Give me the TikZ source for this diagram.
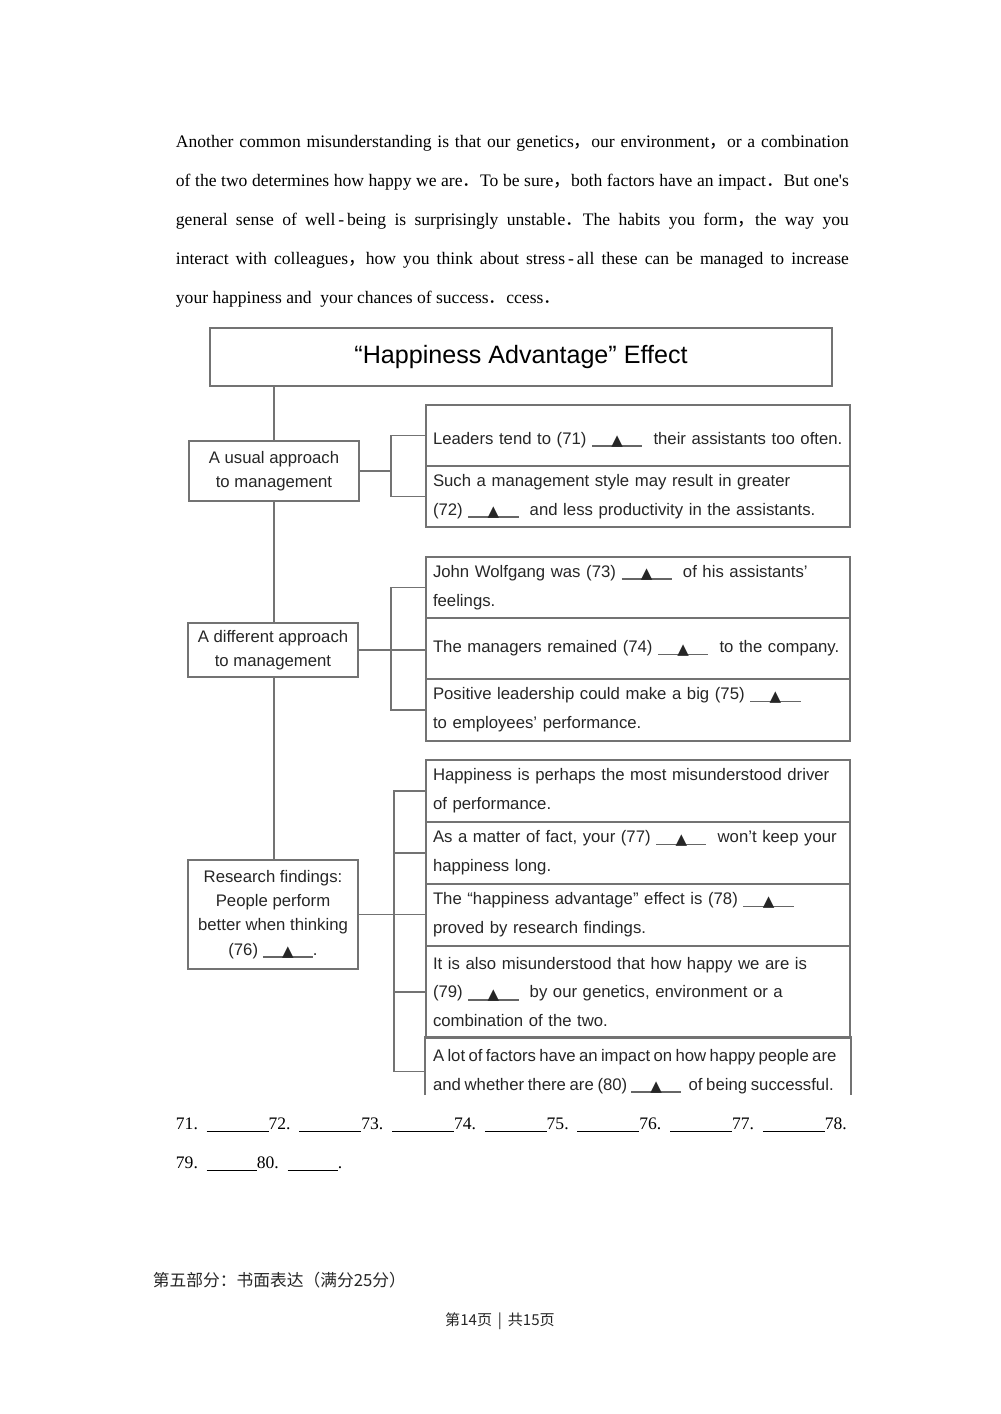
\documentclass[tikz,border=0pt]{standalone}
\usepackage{fontspec}
\setmainfont{Liberation Serif}
\setsansfont{Liberation Sans}
\newfontfamily\plainserif{Liberation Serif}
\newfontfamily\cjk{Noto Sans CJK SC}
\newfontfamily\symfont{DejaVu Sans}
\usetikzlibrary{positioning}

\newlength\unitpx
\setlength\unitpx{0.021cm}
% answer gap: short rule with a small triangle on it
\newcommand\tri{{\symfont\fontsize{9}{9}\selectfont ▲}}
\newcommand\gap{\leavevmode\rlap{\color{black!60}\rule[-1.5pt]{3em}{0.9pt}}\makebox[3em]{\raisebox{-0.7pt}{\tri}}}
\newcommand\ansline[1]{\rule[-1.5pt]{#1}{0.5pt}}
\newcommand\cc[1]{{\cjk #1}}

\begin{document}
\begin{tikzpicture}[
      x=\unitpx, y=-\unitpx,
      line width=1.1pt,
      frame/.style={draw=black!55},
      wire/.style={draw=black!55},
      titlebox/.style={frame, font=\sffamily\fontsize{15}{17}\selectfont,
        minimum width=622*\unitpx, minimum height=58*\unitpx, inner sep=0pt},
      sidebox/.style={frame, font=\sffamily\fontsize{10}{14.4}\selectfont,
        align=center, minimum width=170*\unitpx, inner sep=1pt, text=black!85},
      cell/.style={frame, font=\sffamily\fontsize{10}{17.2}\selectfont,
        text width=410*\unitpx, inner xsep=7*\unitpx, inner ysep=0pt,
        align=left, text=black!85},
      passage/.style={font=\fontsize{10.5}{23.3}\selectfont,
        text width=673*\unitpx, align=justify, inner sep=0pt}
    ]

    \path[use as bounding box] (0,0) rectangle (1000,1414);

    % reading passage
    \node[passage, anchor=north west] (para) at (175,134)
    {Another common misunderstanding is that our genetics\cc{，}our environment\cc{，}or a combination\linebreak
     of the two determines how happy we are\cc{．}To be sure\cc{，}both factors have an impact\cc{．}But one{\plainserif'}s\linebreak
     general sense of well\,-\,being is surprisingly unstable\cc{．}The habits you form\cc{，}the way you\linebreak
     interact with colleagues\cc{，}how you think about stress\,-\,all these can be managed to increase\linebreak
     your happiness and\ \ your chances of success\cc{．}ccess\cc{．}};

    % title
    \node[titlebox] (title) at (521,357) {“Happiness Advantage” Effect};

    % left column
    \node[sidebox, minimum height=60*\unitpx] (usual) at (274,471)
    {A usual approach\\to management};
    \node[sidebox, minimum height=54*\unitpx] (diff) at (273,650)
    {A different approach\\to management};
    \node[sidebox, minimum height=109*\unitpx] (research) at (273,914.5)
    {Research findings:\\People perform\\better when thinking\\(76) \gap.};

    % group 1
    \node[cell, minimum height=61*\unitpx] (q71) at (638,435.5)
    {\rule{0pt}{12.5pt}Leaders tend to (71) \gap\ \ their assistants too often.};
    \node[cell, minimum height=61*\unitpx] (q72) at (638,496.5)
    {Such a management style may result in greater\\(72) \gap\ \ and less productivity in the assistants.};

    % group 2
    \node[cell, minimum height=61*\unitpx] (q73) at (638,587.5)
    {John Wolfgang was (73) \gap\ \ of his assistants'\\feelings.};
    \node[cell, minimum height=61*\unitpx] (q74) at (638,648.5)
    {The managers remained (74) \gap\ \ to the company.};
    \node[cell, minimum height=62*\unitpx] (q75) at (638,710)
    {Positive leadership could make a big (75) \gap\\to employees' performance.};

    % group 3
    \node[cell, minimum height=62*\unitpx] (qa) at (638,791)
    {Happiness is perhaps the most misunderstood driver\\of performance.};
    \node[cell, minimum height=62*\unitpx] (q77) at (638,853)
    {As a matter of fact, your (77) \gap\ \ won't keep your\\happiness long.};
    \node[cell, minimum height=62*\unitpx] (q78) at (638,915)
    {The “happiness advantage” effect is (78) \gap\\proved by research findings.};
    \node[cell, minimum height=92*\unitpx] (q79) at (638,992)
    {It is also misunderstood that how happy we are is\\(79) \gap\ \ by our genetics, environment or a\\combination of the two.};
    \node[cell, draw=none, minimum height=67*\unitpx] (q80) at (638,1071.5)
    {\mbox{\spaceskip=.2em A lot of factors have an impact on how happy people are}\\
     \mbox{\spaceskip=.22em and whether there are (80) \gap\ \ of being successful.}};
    \coordinate (cut) at (638,1095);
    \draw[wire] (q80.west |- cut) -- (q80.north west) -- (q80.north east) -- (q80.east |- cut);

    % trunk
    \draw[wire] (usual.north |- title.south) -- (usual.north);
    \draw[wire] (usual.south) -- (usual.south |- diff.north);
    \draw[wire] (usual.south |- diff.south) -- (usual.south |- research.north);

    % brackets
    \coordinate (k1) at (391,471);
    \coordinate (k2) at (391,650);
    \coordinate (k3) at (394,914.5);

    \draw[wire] (usual.east) -- (k1);
    \draw[wire] (q71.west) -- (q71.west -| k1) -- (q72.west -| k1) -- (q72.west);

    \draw[wire] (diff.east) -- (diff.east -| q74.west);
    \draw[wire] (q73.west) -- (q73.west -| k2) -- (q75.west -| k2) -- (q75.west);

    \draw[wire] (research.east) -- (research.east -| q78.west);
    \draw[wire] (qa.west) -- (qa.west -| k3) -- (q80.west -| k3) -- (q80.west);
    \foreach \q in {q77,q79}
      \draw[wire] (\q.west -| k3) -- (\q.west);

    % answer lines
    \node[anchor=base west, font=\fontsize{10.5}{12}\selectfont, inner sep=0pt] (ans1) at (175,1129)
    {71.\ \ \ansline{37pt}72.\ \ \ansline{37pt}73.\ \ \ansline{37pt}74.\ \ \ansline{37pt}75.\ \ \ansline{37pt}76.\ \ \ansline{37pt}77.\ \ \ansline{37pt}78.};
    \node[anchor=base west, font=\fontsize{10.5}{12}\selectfont, inner sep=0pt] (ans2) at (175,1168)
    {79.\ \ \ansline{30pt}80.\ \ \ansline{30pt}.};

    % next section and footer
    \node[anchor=base west, font=\cjk\fontsize{10}{12}\selectfont, inner sep=0pt, text=black!85] (part5) at (152,1286)
    {第五部分：书面表达（满分25分）};
    \node[anchor=base, font=\cjk\fontsize{9}{11}\selectfont, inner sep=0pt, text=black!85] (foot) at (500,1325)
    {第14页 \,|\, 共15页};

  \end{tikzpicture}
\end{document}
